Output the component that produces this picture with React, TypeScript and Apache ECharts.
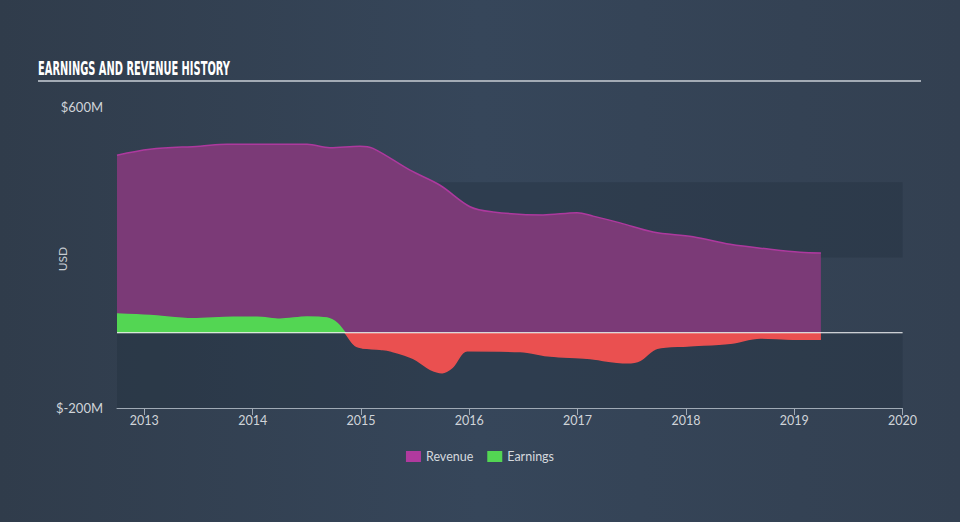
import React, { useEffect, useRef } from "react";
import * as echarts from "echarts";

const TITLE = "EARNINGS AND REVENUE HISTORY";
const Y_NAME = "USD";
const xTicks = [2013, 2014, 2015, 2016, 2017, 2018, 2019, 2020];
const yLabels: Record<number, string> = { 600: "$600M", [-200]: "$-200M" };
const X_MIN = 2012.748;
const X_MAX = 2020;

const revenueDates = [
  2012.748, 2013.053, 2013.515, 2013.764, 2014.068, 2014.502, 2014.714, 2014.991,
  2015.111, 2015.453, 2015.73, 2016.007, 2016.22, 2016.681, 2016.995, 2017.143,
  2017.392, 2017.697, 2018.066, 2018.408, 2018.777, 2019.054, 2019.246,
];
const revenueValues = [
  472, 488, 496, 501, 501, 501, 492, 496,
  490, 432, 392, 335, 321, 313, 319, 310,
  292, 268, 255, 235, 222, 214, 212,
];

const earningsDates = [
  2012.748, 2013.053, 2013.45, 2013.819, 2014.041, 2014.253, 2014.502, 2014.687,
  2014.78, 2014.854, 2014.965, 2015.177, 2015.27, 2015.482, 2015.639, 2015.75,
  2015.842, 2015.981, 2016.47, 2016.747, 2017.088, 2017.458, 2017.578, 2017.735,
  2018.012, 2018.408, 2018.685, 2018.99, 2019.246,
];
const earningsValues = [
  50, 46, 37, 41, 41, 36, 42, 39,
  25, 0, -37, -44, -48, -68, -97, -106,
  -92, -48, -50, -62, -68, -80, -73, -41,
  -35, -28, -14, -17, -17,
];

const FONT = "Lato, 'Open Sans', sans-serif";

export default function App() {
  const ref = useRef<HTMLDivElement>(null);
  useEffect(() => {
    if (!ref.current) return;
    const chart = echarts.init(ref.current, null, { renderer: "svg" });
    chart.setOption({
      animation: false,
      backgroundColor: "transparent",
      textStyle: { fontFamily: FONT },
      graphic: [
        {
          type: "text",
          x: 38,
          y: 58,
          scaleX: 0.494,
          style: {
            text: TITLE,
            fill: "#ffffff",
            font: "bold 20px 'DejaVu Sans', sans-serif",
            textVerticalAlign: "top",
          },
        },
        {
          type: "line",
          shape: { x1: 38, y1: 81, x2: 921, y2: 81 },
          style: { stroke: "#a3abb5", lineWidth: 2 },
        },
        {
          type: "text",
          x: 62,
          y: 259,
          rotation: Math.PI / 2,
          style: {
            text: Y_NAME,
            fill: "#c8cdd3",
            font: "12px Lato, 'Open Sans', sans-serif",
            align: "center",
            verticalAlign: "middle",
          },
        },
      ],
      grid: { left: 117, right: 57.4, top: 107, bottom: 114 },
      legend: {
        bottom: 54,
        left: "center",
        icon: "rect",
        itemWidth: 15,
        itemHeight: 11,
        itemGap: 14,
        textStyle: { color: "#d5d9de", fontSize: 12.5, fontFamily: FONT },
        data: [
          { name: "Revenue", itemStyle: { color: "#b03a9e" } },
          { name: "Earnings", itemStyle: { color: "#53d653" } },
        ],
      },
      xAxis: {
        type: "value",
        min: X_MIN,
        max: X_MAX,
        axisLine: { show: true, onZero: false, lineStyle: { color: "#a0aab5", width: 1 } },
        axisTick: {
          show: true,
          length: 7,
          customValues: xTicks,
          lineStyle: { color: "#a0aab5" },
        },
        axisLabel: {
          customValues: xTicks,
          color: "#d0d4d9",
          fontSize: 12.5,
          margin: 6,
          fontFamily: FONT,
          formatter: (v: number) => String(Math.round(v)),
        },
        splitLine: { show: false },
      },
      yAxis: {
        type: "value",
        min: -200,
        max: 600,
        interval: 200,
        axisLine: { show: false },
        axisTick: { show: false },
        axisLabel: {
          color: "#d0d4d9",
          fontSize: 13,
          margin: 14,
          fontFamily: FONT,
          formatter: (v: number) => yLabels[v] ?? "",
        },
        splitLine: { show: false },
        splitArea: {
          show: true,
          areaStyle: { color: ["rgba(30,42,56,0.3)", "rgba(0,0,0,0)"] },
        },
      },
      visualMap: {
        show: false,
        type: "piecewise",
        seriesIndex: 1,
        dimension: 1,
        pieces: [
          { gte: -1000, lt: 0, color: "#ea5050" },
          { gte: 0, lte: 1000, color: "#53d653" },
        ],
      },
      series: [
        {
          name: "Revenue",
          type: "line",
          smooth: 0.35,
          showSymbol: false,
          symbol: "none",
          data: revenueDates.map((d, i) => [d, revenueValues[i]]),
          itemStyle: { color: "#b03a9e" },
          lineStyle: { color: "#ad399e", width: 1.5 },
          areaStyle: { color: "#7b3a77", opacity: 1 },
          z: 2,
        },
        {
          name: "Earnings",
          type: "line",
          smooth: 0.35,
          showSymbol: false,
          symbol: "none",
          data: earningsDates.map((d, i) => [d, earningsValues[i]]),
          itemStyle: { color: "#53d653" },
          lineStyle: { width: 1.5 },
          areaStyle: { opacity: 1 },
          z: 3,
        },
        {
          name: "zero",
          type: "line",
          symbol: "none",
          silent: true,
          data: [
            [X_MIN, 0],
            [X_MAX, 0],
          ],
          lineStyle: { color: "#ffffff", width: 1 },
          itemStyle: { color: "#ffffff" },
          z: 5,
        },
      ],
    });
    return () => chart.dispose();
  }, []);
  return (
    <div
      style={{
        position: "fixed",
        left: 0,
        top: 0,
        width: 960,
        height: 522,
        background: "linear-gradient(90deg, #303c4b 0%, #36465a 50%, #334051 100%)",
      }}
    >
      <div ref={ref} style={{ width: 960, height: 522 }} />
    </div>
  );
}
